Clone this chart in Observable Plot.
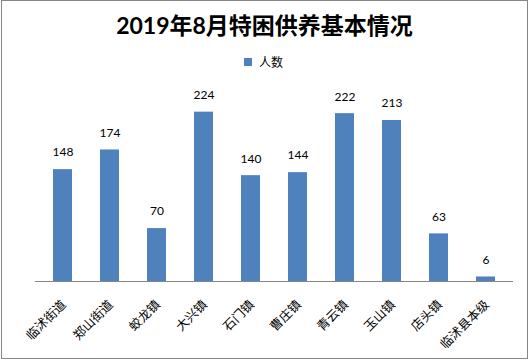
<!DOCTYPE html>
<html>
<head>
<meta charset="utf-8">
<script src="https://cdn.jsdelivr.net/npm/d3@7"></script>
<script src="https://cdn.jsdelivr.net/npm/@observablehq/plot@0.6"></script>
<style>
  html, body { margin: 0; padding: 0; background: #fff; }
  #wrap { position: relative; width: 529px; height: 361px; overflow: hidden; font-family: Lato, "Noto Sans CJK SC", sans-serif; }
  #border { position: absolute; left: 1px; top: 0px; width: 525px; height: 357px; border: 1px solid #868686; }
  #title { position: absolute; left: 0; width: 529px; top: 10px; text-align: center; font-size: 23px; font-weight: bold; color: #000; line-height: 30px; }
  #legend { position: absolute; left: 244px; top: 53px; font-size: 12px; color: #000; display: flex; align-items: center; font-family: "Noto Sans CJK SC", sans-serif; }
  #legend .sw { width: 8px; height: 8px; background: #4F81BD; margin-right: 7px; }
  #chart { position: absolute; left: 0; top: 0; }
</style>
</head>
<body>
<div id="wrap">
  <div id="chart"></div>
  <div id="border"></div>
  <div id="title">2019年8月特困供养基本情况</div>
  <div id="legend"><span class="sw"></span><span>人数</span></div>
</div>
<script>
const categories = ["临沭街道", "郑山街道", "蛟龙镇", "大兴镇", "石门镇", "曹庄镇", "青云镇", "玉山镇", "店头镇", "临沭县本级"];
const values = [148, 174, 70, 224, 140, 144, 222, 213, 63, 6];
const seriesName = "人数";

const data = categories.map((c, i) => ({category: c, value: values[i]}));

const chart = Plot.plot({
  width: 529,
  height: 361,
  marginLeft: 35,
  marginRight: 16,
  marginTop: 92,
  marginBottom: 80,
  style: {background: "transparent", fontFamily: "Lato, 'Noto Sans CJK SC', sans-serif"},
  x: {domain: categories, paddingInner: 0.6, paddingOuter: 0.3, label: null},
  y: {domain: [0, 250], axis: null},
  marks: [
    Plot.barY(data, {x: "category", y: "value", fill: "#4F81BD"}),
    Plot.ruleY([0], {stroke: "#868686", strokeWidth: 1}),
    Plot.text(data, {x: "category", y: "value", text: d => String(d.value), dy: -17, fontSize: 12, fill: "#000"}),
    Plot.axisX({tickSize: 0, tickRotate: -45, tickPadding: 21, dx: 1, fontSize: 12.5, fill: "#000", fontFamily: "'Noto Sans CJK SC', sans-serif", label: null})
  ]
});
document.getElementById("chart").appendChild(chart);
</script>
</body>
</html>
